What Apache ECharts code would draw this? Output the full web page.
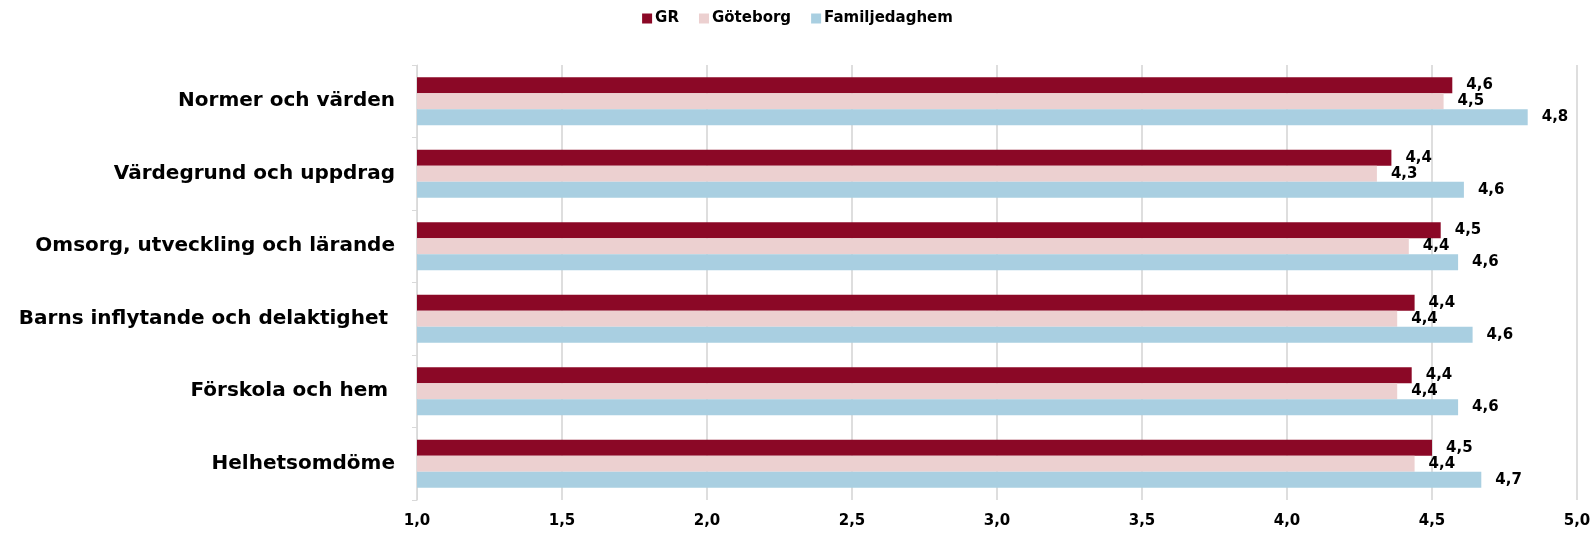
<!DOCTYPE html>
<html>
<head>
<meta charset="utf-8">
<script src="https://cdn.jsdelivr.net/npm/echarts@6/dist/echarts.min.js"></script>
<style>
  html, body { margin: 0; padding: 0; background: #fff; }
  #chart { width: 1595px; height: 533px; }
</style>
</head>
<body>
<div id="chart"></div>
<script>
const categories = [
  'Normer och värden',
  'Värdegrund och uppdrag',
  'Omsorg, utveckling och lärande',
  'Barns inflytande och delaktighet ',
  'Förskola och hem ',
  'Helhetsomdöme'
]
const grValues = [4.57, 4.36, 4.53, 4.44, 4.43, 4.50]
const goteborgValues = [4.54, 4.31, 4.42, 4.38, 4.38, 4.44]
const familjValues = [4.83, 4.61, 4.59, 4.64, 4.59, 4.67]
const xTicks = [1.0, 1.5, 2.0, 2.5, 3.0, 3.5, 4.0, 4.5, 5.0]

const font = 'DejaVu Sans'
const fmt = v => v.toFixed(1).replace('.', ',')

function makeSeries (name, data, color) {
  return {
    name: name,
    type: 'bar',
    data: data,
    barWidth: 16,
    barGap: '0%',
    itemStyle: { color: color },
    label: {
      show: true,
      position: 'right',
      distance: 14,
      color: '#000',
      fontFamily: font,
      fontWeight: 'bold',
      fontSize: 15,
      formatter: p => fmt(p.value)
    }
  }
}

const chart = echarts.init(document.getElementById('chart'))
chart.setOption({
  animation: false,
  textStyle: { fontFamily: font },
  legend: {
    top: 6,
    left: 'center',
    itemWidth: 10,
    itemHeight: 10,
    itemGap: 20,
    icon: 'rect',
    textStyle: { fontFamily: font, fontWeight: 'bold', fontSize: 15, color: '#000', padding: [0, 0, 0, -2] },
    data: ['GR', 'Göteborg', 'Familjedaghem']
  },
  grid: {
    left: 417,
    right: 18,
    top: 65,
    bottom: 33
  },
  xAxis: {
    type: 'value',
    min: xTicks[0],
    max: xTicks[xTicks.length - 1],
    interval: 0.5,
    axisLine: { show: false },
    axisTick: { show: false },
    splitLine: { show: true, lineStyle: { color: '#dedede', width: 2 } },
    axisLabel: {
      margin: 14,
      color: '#000',
      fontFamily: font,
      fontWeight: 'bold',
      fontSize: 15,
      formatter: v => fmt(v)
    }
  },
  yAxis: {
    type: 'category',
    inverse: true,
    data: categories,
    axisLine: { show: true, lineStyle: { color: '#d9d9d9', width: 1 } },
    axisTick: { show: true, length: 5, lineStyle: { color: '#d9d9d9' } },
    axisLabel: {
      margin: 22,
      color: '#000',
      fontFamily: font,
      fontSize: 20,
      fontWeight: 'bold'
    }
  },
  series: [
    makeSeries('GR', grValues, '#8b0826'),
    makeSeries('Göteborg', goteborgValues, '#ecd0d0'),
    makeSeries('Familjedaghem', familjValues, '#a9cfe1')
  ]
})
</script>
</body>
</html>
